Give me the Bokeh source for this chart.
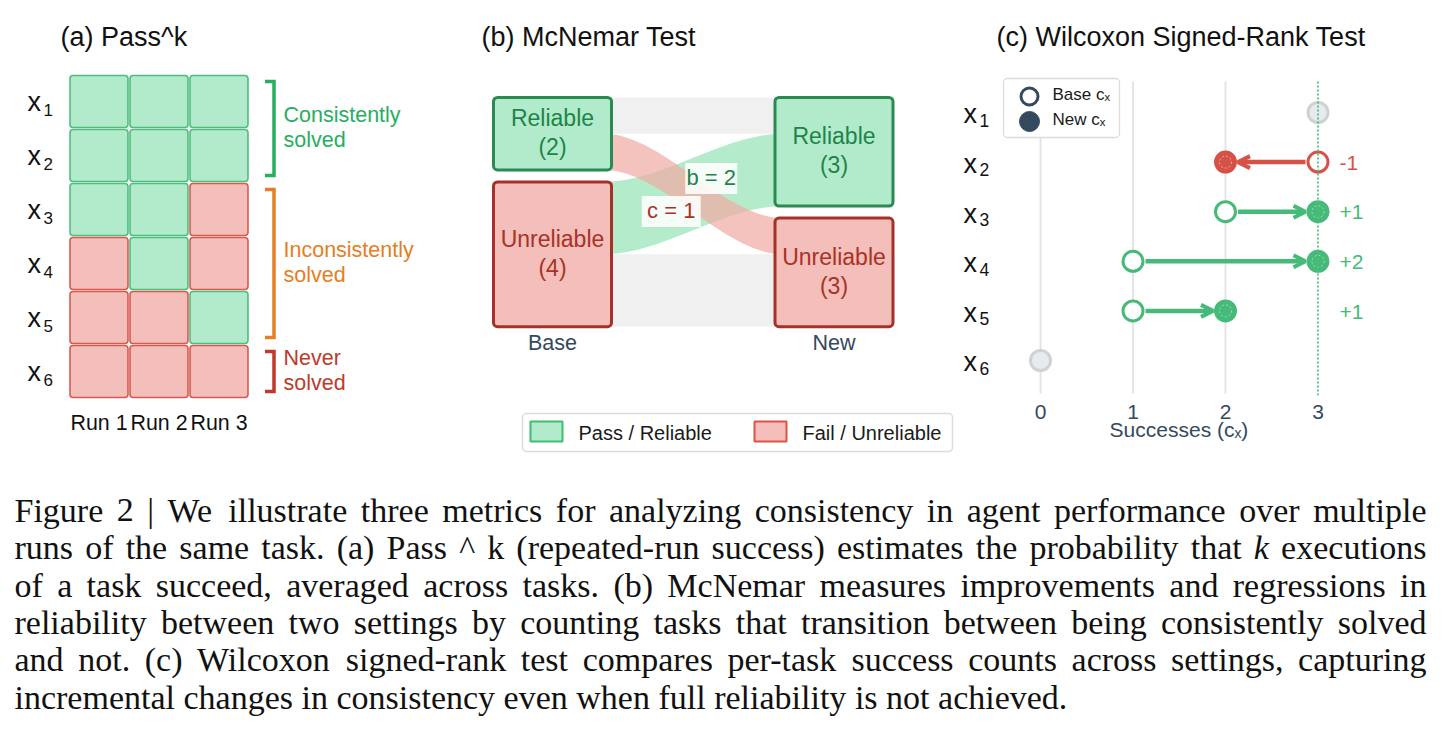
import numpy as np
from bokeh.plotting import figure
from bokeh.layouts import row, column
from bokeh.models import ColumnDataSource, Range1d, FixedTicker, Arrow, OpenHead
from bokeh.core.properties import value
from bokeh.embed import file_html
from bokeh.resources import INLINE

# ---------------- data ----------------
task_ids = ["1", "2", "3", "4", "5", "6"]
run_labels = ["Run 1", "Run 2", "Run 3"]
run_1 = [1, 1, 1, 0, 0, 0]
run_2 = [1, 1, 1, 1, 0, 0]
run_3 = [1, 1, 0, 0, 1, 0]
group_line1 = ["Consistently", "Inconsistently", "Never"]
group_line2 = ["solved", "solved", "solved"]
group_first = [0, 2, 5]
group_last = [1, 4, 5]

state_names = ["Reliable", "Unreliable"]
column_names = ["Base", "New"]
base_counts = [2, 4]
new_counts = [3, 3]
flow_src = [0, 0, 1, 1]
flow_dst = [0, 1, 0, 1]
flow_n = [1, 1, 2, 2]
legend_b_labels = ["Pass / Reliable", "Fail / Unreliable"]

base_cx = [3, 3, 2, 1, 1, 0]
new_cx = [3, 2, 3, 3, 2, 0]
cx_ticks = [0, 1, 2, 3]
legend_c_labels = ["Base c\u2093", "New c\u2093"]

titles = ["(a) Pass^k", "(b) McNemar Test", "(c) Wilcoxon Signed-Rank Test"]

caption_lines = [
    "Figure 2 | We illustrate three metrics for analyzing consistency in agent performance over multiple",
    "runs of the same task. (a) Pass ^ k (repeated-run success) estimates the probability that k executions",
    "of a task succeed, averaged across tasks. (b) McNemar measures improvements and regressions in",
    "reliability between two settings by counting tasks that transition between being consistently solved",
    "and not. (c) Wilcoxon signed-rank test compares per-task success counts across settings, capturing",
    "incremental changes in consistency even when full reliability is not achieved.",
]
caption_italic = [(1, 15)]

# ---------------- style ----------------
SANS = value("Liberation Sans")
SERIF = value("Liberation Serif")
BLACK = "#111111"
NAVY = "#34495E"
GREEN_FILL = "#B2EBCB"
RED_FILL = "#F4BEBA"
GREEN_EDGE = "#4DBE7B"
RED_EDGE = "#D85A4F"
GREEN_DARK = "#2A8A52"
RED_DARK = "#A33228"
GREEN_TXT = "#1E8449"
RED_TXT = "#A93226"
GROUP_COLORS = ["#27AE60", "#E67E22", "#C0392B"]
C_GREEN = "#46BA78"
C_RED = "#D65246"
BASELINE_FIX = 0.30  # rendered alphabetic baseline sits ~0.3 em low

PX_PER_UNIT = {}


def mkfig(w, h, xr, yr, pxu, xaxis=None, mb_bottom=0, mb_right=0):
    p = figure(width=w, height=h, x_range=Range1d(*xr), y_range=Range1d(*yr),
               output_backend="svg", toolbar_location=None,
               min_border_left=0, min_border_right=mb_right, min_border_top=0,
               min_border_bottom=mb_bottom, x_axis_location=xaxis, y_axis_location=None)
    if "frame_align" in p.properties():
        p.frame_align = False
    p.outline_line_color = None
    p.xgrid.grid_line_color = None
    p.ygrid.grid_line_color = None
    p.background_fill_color = "white"
    p.border_fill_color = "white"
    PX_PER_UNIT[id(p)] = pxu
    return p


def txt(p, x, y, text, size, color=BLACK, align="left", font=SANS, style="normal"):
    spx = float(size.replace("px", ""))
    shift = BASELINE_FIX * spx / PX_PER_UNIT[id(p)]
    yy = [v - shift for v in y]
    p.text(x=list(x), y=yy, text=list(text), text_font=font, text_font_size=size,
           text_color=color, text_align=align, text_baseline="alphabetic",
           text_font_style=style)


n_tasks = len(task_ids)
n_runs = len(run_labels)

# ================= panel (a) =================
ax = lambda px: (px - 98.5) / 60.0
ay = lambda py: (py - 101.0) / 54.0
pa = mkfig(470, 470, (ax(0), ax(470)), (ay(470), ay(0)), 54.0)

runs_matrix = np.array([run_1, run_2, run_3]).T
ci, rj = np.meshgrid(np.arange(n_runs), np.arange(n_tasks))
passed = runs_matrix.ravel()
cell_src = ColumnDataSource(dict(
    left=ci.ravel() - 0.483, right=ci.ravel() + 0.483,
    top=rj.ravel() - 0.481, bottom=rj.ravel() + 0.481,
    fill=[GREEN_FILL if v else RED_FILL for v in passed],
    edge=[GREEN_EDGE if v else RED_EDGE for v in passed]))
pa.quad(left="left", right="right", top="top", bottom="bottom", fill_color="fill",
        line_color="edge", line_width=1.6, border_radius=3, source=cell_src)

rows = np.arange(n_tasks)
txt(pa, [ax(27)] * n_tasks, rows + 9 / 54, ["x"] * n_tasks, "27px")
txt(pa, [ax(43)] * n_tasks, rows + 14 / 54, task_ids, "17px")
txt(pa, range(n_runs), [n_tasks - 1 + 58 / 54] * n_runs, run_labels, "21.4px", align="center")

bx_v = n_runs - 1 + 0.5 + (273 - 248) / 60.0
bx_t = bx_v - 9 / 60.0
for k in range(len(group_first)):
    top = group_first[k] - 0.481 + 6 / 54
    bot = group_last[k] + 0.481 - 6 / 54
    pa.line(x=[bx_t, bx_v, bx_v, bx_t], y=[top, top, bot, bot], line_color=GROUP_COLORS[k],
            line_width=3.5, line_join="miter")
    cen = (group_first[k] + group_last[k]) / 2
    txt(pa, [ax(283), ax(283)], [cen - 7 / 54, cen + 18 / 54],
        [group_line1[k], group_line2[k]], "21.5px", color=GROUP_COLORS[k])

txt(pa, [ax(60)], [ay(45)], [titles[0]], "27px")

# ================= panel (b) =================
bx = lambda page_px: (page_px - 470 - 82) / 281.5
by = lambda py: (py - 97.0) / 36.2
pb = mkfig(490, 470, (bx(470), bx(960)), (by(470), by(0)), 36.2)

hw = 59.0 / 281.5
gap = 12.0 / 36.2


def stack(counts):
    tops, y = [], 0.0
    for c in counts:
        tops.append(y)
        y += c + gap
    return tops


base_tops = stack(base_counts)
new_tops = stack(new_counts)
nf = len(flow_n)
src_cur, dst_cur = list(base_tops), list(new_tops)
s_pos, d_pos = [0.0] * nf, [0.0] * nf
for f in sorted(range(nf), key=lambda f: (flow_src[f], flow_dst[f])):
    s_pos[f] = src_cur[flow_src[f]]
    src_cur[flow_src[f]] += flow_n[f]
for f in sorted(range(nf), key=lambda f: (flow_dst[f], flow_src[f])):
    d_pos[f] = dst_cur[flow_dst[f]]
    dst_cur[flow_dst[f]] += flow_n[f]

t = np.linspace(0, 1, 80)
s = t * t * (3 - 2 * t)
xl, xr = hw - 0.03, 1 - hw + 0.03
xs_curve = xl + (xr - xl) * t


def kind(f):
    if flow_src[f] == flow_dst[f]:
        return "same"
    return "b" if flow_src[f] > flow_dst[f] else "c"


flow_style = {"same": ("#F0F0F0", 1.0), "b": ("#B4ECCB", 1.0), "c": ("#F1A9A2", 0.7)}
for kd in ["same", "b", "c"]:
    fs = [f for f in range(nf) if kind(f) == kd]
    xs_l, ys_l = [], []
    for f in fs:
        top = s_pos[f] + (d_pos[f] - s_pos[f]) * s
        bot = top + flow_n[f]
        xs_l.append(list(xs_curve) + list(xs_curve[::-1]))
        ys_l.append(list(top) + list(bot[::-1]))
    pb.patches(xs=xs_l, ys=ys_l, fill_color=flow_style[kd][0], fill_alpha=flow_style[kd][1],
               line_color=None)

for col, (counts, tops) in enumerate([(base_counts, base_tops), (new_counts, new_tops)]):
    for k, (c, tp) in enumerate(zip(counts, tops)):
        pb.quad(left=[col - hw], right=[col + hw], top=[tp], bottom=[tp + c],
                fill_color=GREEN_FILL if k == 0 else RED_FILL,
                line_color=GREEN_DARK if k == 0 else RED_DARK, line_width=3, border_radius=4)
        cen = tp + c / 2
        txt(pb, [col, col], [cen - 8.5 / 36.2, cen + 20.5 / 36.2],
            [state_names[k], "(%d)" % c], "23px", color=GREEN_TXT if k == 0 else RED_TXT,
            align="center")

txt(pb, [0, 1], [by(349)] * 2, column_names, "21.5px", color=NAVY, align="center")

label_off = {"b": (18.0, -15.5, 52), "c": (-22.0, 17.5, 59)}
for f in range(nf):
    kd = kind(f)
    if kd == "same":
        continue
    dxp, dyp, wbox = label_off[kd]
    mx = 0.5 + dxp / 281.5
    my = (s_pos[f] + d_pos[f]) / 2 + flow_n[f] / 2 + dyp / 36.2
    pb.rect(x=[mx], y=[my], width=wbox, height=31, width_units="screen", height_units="screen",
            fill_color="white", fill_alpha=0.88, line_color=None)
    txt(pb, [mx], [my + 6 / 36.2], ["%s = %d" % (kd, flow_n[f])], "22px",
        color=GREEN_TXT if kd == "b" else RED_TXT, align="center")

# legend (b)
pb.quad(left=[bx(522)], right=[bx(952)], top=[by(413)], bottom=[by(451)], fill_color="white",
        line_color="#DCDCDC", line_width=1.5, border_radius=4)
for k, (sx0, tx0) in enumerate([(530, 578), (754, 802)]):
    pb.quad(left=[bx(sx0)], right=[bx(sx0 + 32)], top=[by(421)], bottom=[by(441)],
            fill_color=GREEN_FILL if k == 0 else RED_FILL,
            line_color="#3DBE70" if k == 0 else "#DE5347", line_width=2)
    txt(pb, [bx(tx0)], [by(438)], [legend_b_labels[k]], "20px", color="#1A1A1A")

txt(pb, [bx(481)], [by(45)], [titles[1]], "27px")

# ================= panel (c) =================
cx = lambda page_px: (page_px - 1040) / 92.5
cy = lambda py: (py - 112.0) / 49.6
C_FRAME_RIGHT = 1397  # frame centred on the tick span so the axis label sits under it
pc = mkfig(482, 470, (cx(960), cx(C_FRAME_RIGHT)), (cy(395), cy(0)), 49.6, xaxis="below",
           mb_bottom=75, mb_right=1442 - C_FRAME_RIGHT)

xa = pc.xaxis[0]
xa.ticker = FixedTicker(ticks=cx_ticks)
xa.axis_line_color = None
xa.major_tick_line_color = None
xa.minor_tick_line_color = None
xa.major_label_text_font = "Liberation Sans"
xa.major_label_text_font_size = "21px"
xa.major_label_text_color = NAVY
xa.major_label_standoff = 3
xa.axis_label = "Successes (c\u2093)"
xa.axis_label_text_font = "Liberation Sans"
xa.axis_label_text_font_style = "normal"
xa.axis_label_text_font_size = "21px"
xa.axis_label_text_color = NAVY
xa.axis_label_standoff = -4

grid_ticks = [v for v in cx_ticks if v < n_runs]
pc.segment(x0=grid_ticks, y0=[cy(81)] * len(grid_ticks), x1=grid_ticks,
           y1=[cy(393)] * len(grid_ticks), line_color="#E2E2E2", line_width=1.8)

rows_c = list(range(n_tasks))
delta = [n - b for b, n in zip(base_cx, new_cx)]
same_idx = [j for j in rows_c if delta[j] == 0]
chg_idx = [j for j in rows_c if delta[j] != 0]
chg_col = [C_GREEN if delta[j] > 0 else C_RED for j in chg_idx]

pc.scatter(x=[base_cx[j] for j in same_idx], y=same_idx, size=20, fill_color="#E8EBED",
           line_color="#CDD2D5", line_width=3)

for sign, col in [(1, C_GREEN), (-1, C_RED)]:
    idx = [j for j in chg_idx if np.sign(delta[j]) == sign]
    asrc = ColumnDataSource(dict(
        x0=[base_cx[j] + sign * 12.5 / 92.5 for j in idx],
        x1=[new_cx[j] - sign * 12.5 / 92.5 for j in idx],
        y=[float(j) for j in idx]))
    pc.add_layout(Arrow(end=OpenHead(size=12, line_width=4, line_color=col), x_start="x0",
                        y_start="y", x_end="x1", y_end="y", line_color=col, line_width=4.5,
                        source=asrc))

csrc = ColumnDataSource(dict(b=[base_cx[j] for j in chg_idx], n=[new_cx[j] for j in chg_idx],
                             y=chg_idx, col=chg_col))
pc.scatter(x="b", y="y", size=20, fill_color="white", line_color="col", line_width=3,
           source=csrc)
pc.scatter(x="n", y="y", size=20, fill_color="col", line_color="col", line_width=3,
           source=csrc)
pc.scatter(x="n", y="y", size=12, fill_color=None, line_color="white", line_alpha=0.45,
           line_width=1, line_dash="2 2", source=csrc)

pc.segment(x0=[n_runs], y0=[cy(81)], x1=[n_runs], y1=[cy(395)], line_color="#4CC17E",
           line_width=1.8, line_dash="2 2")

dl_shift = BASELINE_FIX * 21 / 49.6
pc.text(x=[cx(1339)] * len(chg_idx), y=[j + 7 / 49.6 - dl_shift for j in chg_idx],
        text=["%+d" % delta[j] for j in chg_idx], text_color=chg_col, text_font=SANS,
        text_font_size="21px", text_baseline="alphabetic")

txt(pc, [cx(963)] * n_tasks, np.array(rows_c) + 10 / 49.6, ["x"] * n_tasks, "27px")
txt(pc, [cx(979)] * n_tasks, np.array(rows_c) + 13 / 49.6, task_ids, "17.5px")

# legend (c)
pc.quad(left=[cx(1003)], right=[cx(1119)], top=[cy(78)], bottom=[cy(137)], fill_color="white",
        line_color="#DCDCDC", line_width=1.3, border_radius=4)
pc.scatter(x=[cx(1029)], y=[cy(96)], size=17, fill_color="white", line_color=NAVY, line_width=3)
pc.scatter(x=[cx(1029)], y=[cy(121)], size=20, fill_color=NAVY, line_color=NAVY, line_width=1)
txt(pc, [cx(1052)] * 2, [cy(99), cy(124)], legend_c_labels, "17px", color="#1A1A1A")

txt(pc, [cx(996)], [cy(45)], [titles[2]], "27px")

# ================= caption =================
ROMAN = {' ': 250, 'a': 444, 'b': 500, 'c': 444, 'd': 500, 'e': 444, 'f': 333, 'g': 500,
         'h': 500, 'i': 278, 'j': 278, 'k': 500, 'l': 278, 'm': 778, 'n': 500, 'o': 500,
         'p': 500, 'q': 500, 'r': 333, 's': 389, 't': 278, 'u': 500, 'v': 500, 'w': 722,
         'x': 500, 'y': 500, 'z': 444, 'A': 722, 'B': 667, 'C': 667, 'D': 722, 'E': 611,
         'F': 556, 'G': 722, 'H': 722, 'I': 333, 'J': 389, 'K': 722, 'L': 611, 'M': 889,
         'N': 722, 'O': 722, 'P': 556, 'Q': 722, 'R': 667, 'S': 556, 'T': 611, 'U': 722,
         'V': 722, 'W': 944, 'X': 722, 'Y': 722, 'Z': 611, '(': 333, ')': 333, '.': 250,
         ',': 250, '-': 333, '|': 200, '^': 469}
for d in "0123456789":
    ROMAN[d] = 500
ITALIC = {'k': 444}
CAP_SIZE = 34.0
X_L, X_R = 14.0, 1426.0
pcap = mkfig(1442, 278, (0, 1442), (278, 0), 1.0)
L, R, I = ([], [], []), ([], [], []), ([], [], [])
for li, line in enumerate(caption_lines):
    words = line.split(" ")
    widths = []
    for wi, w in enumerate(words):
        tab = ITALIC if (li, wi) in caption_italic else ROMAN
        widths.append(sum(tab.get(ch, 500) for ch in w) / 1000.0 * CAP_SIZE)
    y = 50.0 + li * 37.4
    last = li == len(caption_lines) - 1
    g = 0.25 * CAP_SIZE if last else (X_R - X_L - sum(widths)) / (len(words) - 1)
    x = X_L
    for wi, w in enumerate(words):
        if (not last) and wi == len(words) - 1:
            tgt, xx = R, X_R
        elif (li, wi) in caption_italic:
            tgt, xx = I, x
        else:
            tgt, xx = L, x
        tgt[0].append(xx); tgt[1].append(y); tgt[2].append(w)
        x += widths[wi] + g
txt(pcap, L[0], L[1], L[2], "%gpx" % CAP_SIZE, font=SERIF)
txt(pcap, R[0], R[1], R[2], "%gpx" % CAP_SIZE, font=SERIF, align="right")
txt(pcap, I[0], I[1], I[2], "%gpx" % CAP_SIZE, font=SERIF, style="italic")

layout = column(row(pa, pb, pc), pcap)
open("out.html", "w").write(file_html(layout, INLINE))
